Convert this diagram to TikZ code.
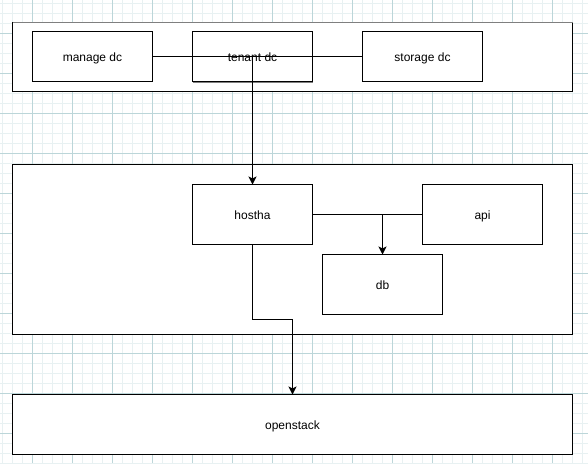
\documentclass[tikz,border=0pt]{standalone}
\usepackage{fontspec}
\setmainfont{Liberation Sans}
\usetikzlibrary{arrows.meta}
\definecolor{gridmajor}{HTML}{BCD6D9}
\definecolor{gridminor}{HTML}{E8F1F2}
\definecolor{edgegray}{HTML}{7F7F7F}
\tikzset{
  box/.style={draw=black, fill=white, line width=1pt, minimum width=120pt, minimum height=60pt,
    inner sep=0pt, outer sep=0pt, anchor=north west, text height=10pt, text depth=0pt,
    font=\fontsize{12}{14}\selectfont},
  container/.style={draw=black, fill=white, line width=1pt, minimum width=560pt,
    inner sep=0pt, outer sep=0pt, anchor=north west, text height=10pt, text depth=0pt,
    font=\fontsize{12}{14}\selectfont},
  conn/.style={draw=black, line width=1pt},
  arr/.style={conn, -{Stealth[length=8pt,width=8pt,inset=2pt]}}
}
\begin{document}
\begin{tikzpicture}[x=1pt,y=-1pt]
\useasboundingbox (0,0) rectangle (588,463);
\fill[white] (0,0) rectangle (588,463);
% grid
\foreach \k in {0,...,58} {
  \draw[gridminor, line width=1pt] ({2.5+10*\k},0) -- ({2.5+10*\k},463);
}
\foreach \k in {0,...,46} {
  \draw[gridminor, line width=1pt] (0,{3.5+10*\k}) -- (588,{3.5+10*\k});
}
\foreach \k in {0,...,14} {
  \draw[gridmajor, line width=1pt] ({32.5+40*\k},0) -- ({32.5+40*\k},463);
}
\foreach \k in {0,...,11} {
  \draw[gridmajor, line width=1pt] (0,{33.5+40*\k}) -- (588,{33.5+40*\k});
}
% containers
\node[container, minimum height=69pt] (top) at (12.5,22.5) {};
\draw[edgegray, line width=1.5pt] (top.north west) -- (top.north east);
\node[container, minimum height=170pt] (middle) at (12.5,164.5) {};
\node[container, minimum height=60pt] (openstack) at (12.5,394.5) {openstack};
% inner boxes
\node[box, minimum height=50pt] (manage) at (32.5,31.5) {manage dc};
\node[box, minimum height=50pt] (tenant) at (192.5,31.5) {tenant dc};
\draw[edgegray, line width=1pt] ([yshift=-1pt]tenant.south west) -- ([yshift=-1pt]tenant.south east);
\node[box, minimum height=50pt] (storage) at (362.5,31.5) {storage dc};
\node[box] (hostha) at (192.5,184.5) {hostha};
\node[box] (api) at (422.5,184.5) {api};
\node[box] (db) at (322.5,254.5) {db};
% connectors
\draw[conn] (manage.east) -- (storage.west);
\draw[arr] (tenant.center) -- (hostha.north);
\draw[conn] (hostha.east) -- (api.west);
\coordinate (split) at (db.north |- hostha.east);
\draw[arr] (split) -- (db.north);
\coordinate (bend) at (292.5,319.5);
\draw[arr] (hostha.south) |- (bend) -- (openstack.north);
\end{tikzpicture}
\end{document}
